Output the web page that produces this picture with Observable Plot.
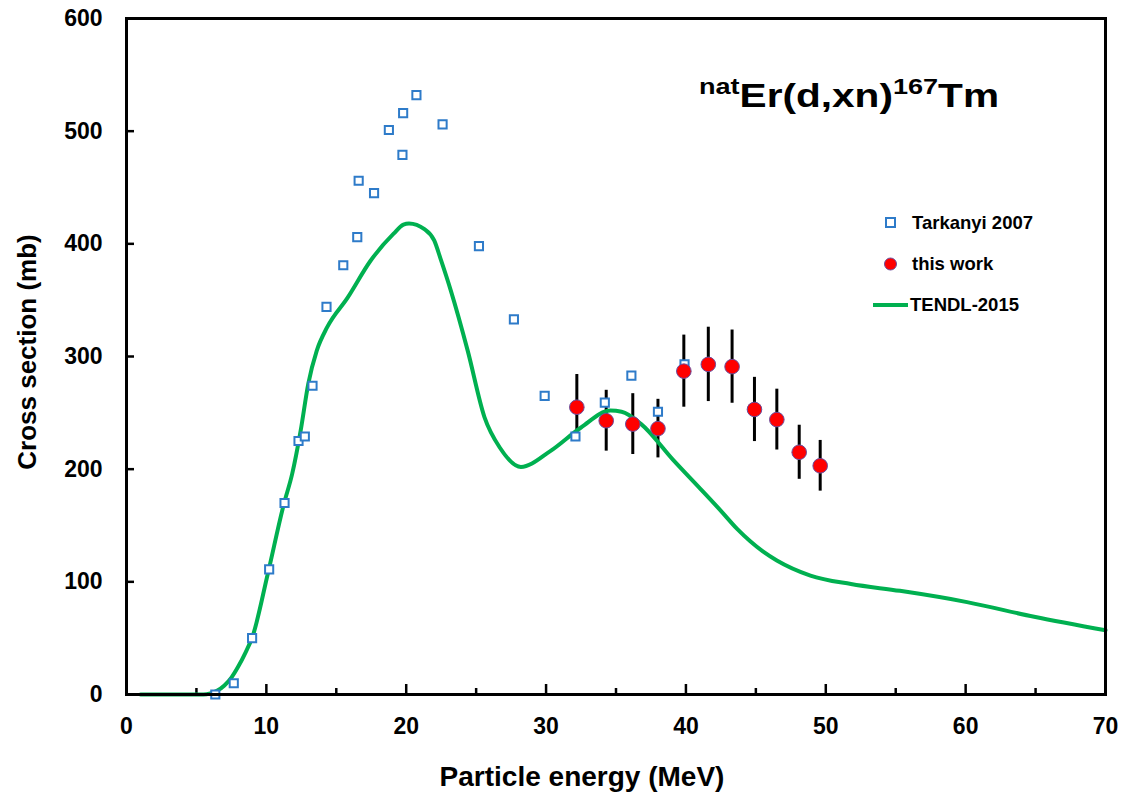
<!DOCTYPE html>
<html><head><meta charset="utf-8">
<script src="https://cdn.jsdelivr.net/npm/d3@7"></script>
<script src="https://cdn.jsdelivr.net/npm/@observablehq/plot@0.6"></script>
<style>
body{margin:0;background:#fff}
#chart{position:relative;width:1125px;height:796px}
</style>
</head><body><div id="chart"></div>
<script>
// Tarkanyi 2007 (open squares)
const tarkE  = [6.35, 7.67, 8.98, 10.2, 11.3, 12.3, 12.75, 13.3, 14.3, 15.5, 16.5, 16.6, 17.7, 18.76, 19.78, 19.73, 20.73, 22.6, 25.2, 27.7, 29.9, 32.1, 34.2, 36.1, 38.0, 39.9];
const tarkXS = [0, 10, 50, 111, 170, 225, 229, 274, 344, 381, 406, 456, 445, 501, 516, 479, 532, 506, 398, 333, 265, 229, 259, 283, 251, 293];
// this work (red circles with uncertainties)
const workE   = [32.2, 34.3, 36.2, 38.0, 39.85, 41.6, 43.3, 44.9, 46.5, 48.1, 49.6];
const workXS  = [255, 243, 240, 236, 287, 293, 291, 253, 244, 215, 203];
const workErr = [29, 27, 27, 26, 32, 33, 32.5, 28.5, 27, 24, 22.5];
// TENDL-2015 curve
const tendlE  = [1, 3, 5, 5.5, 6.0, 6.5, 7.0, 7.5, 8.0, 8.5, 9.0, 10.1, 11.25, 11.85, 12.45, 13.0, 13.6, 14.35, 15.8, 17.45, 19.1, 19.8, 20.2, 21.3, 22.0, 22.5, 23.2, 24.4, 25.6, 26.7, 28.2, 30.3, 32.5, 34.6, 35.4, 36.8, 39.1, 41.0, 42.5, 43.66, 44.6, 45.5, 46.5, 48.9, 51.8, 55.3, 60.1, 64.9, 70];
const tendlXS = [0, 0, 0, 0, 1, 3.5, 8, 15, 25, 37, 51, 107, 169, 196, 234, 276, 305, 326, 352, 385, 409, 417, 418, 413, 403, 385, 358, 305, 246, 219, 202, 216, 237, 252, 251, 240, 208, 183, 163, 147, 136, 127, 119, 105.6, 98, 92, 82, 69, 57];
// axis ticks
const xMajor = [0, 10, 20, 30, 40, 50, 60, 70];
const xMinor = [5, 15, 25, 35, 45, 55, 65];
const yMajor = [0, 100, 200, 300, 400, 500, 600];

const tark  = tarkE.map((e, i) => ({e, xs: tarkXS[i]}));
const work  = workE.map((e, i) => ({e, xs: workXS[i], err: workErr[i]}));
const tendl = tendlE.map((e, i) => ({e, xs: tendlXS[i]}));

const font = "'Liberation Sans', Arial, Helvetica, sans-serif";
const green = "#00B050", blue = "#2E7BC9", red = "#FF0000";

const W = 1125, H = 796, mL = 126, mR = 20, mT = 18, mB = 102;
const plotW = W - mL - mR, plotH = H - mT - mB;

const plot = Plot.plot({
  width: W, height: H,
  marginLeft: mL, marginRight: mR, marginTop: mT, marginBottom: mB,
  style: {fontFamily: font, fontWeight: "bold", background: "#fff", color: "#000"},
  x: {domain: [0, 70]},
  y: {domain: [0, 600]},
  marks: [
    // inward ticks (rules spanning only a few pixels from the frame edge)
    Plot.ruleX(xMinor, {x: d => d, insetTop: plotH - 6, stroke: "#000", strokeWidth: 2.5}),
    Plot.ruleX(xMajor, {x: d => d, insetTop: plotH - 10, stroke: "#000", strokeWidth: 2.5}),
    Plot.ruleY(yMajor, {y: d => d, insetRight: plotW - 8, stroke: "#000", strokeWidth: 2.5}),
    Plot.axisX(xMajor, {tickSize: 0, tickPadding: 23, fontSize: 23, label: null}),
    Plot.axisY(yMajor, {tickSize: 0, tickPadding: 24, fontSize: 23, label: null}),
    Plot.ruleX(work, {x: "e", y1: d => d.xs - d.err, y2: d => d.xs + d.err, stroke: "#000", strokeWidth: 3}),
    Plot.line(tendl, {x: "e", y: "xs", stroke: green, strokeWidth: 4, curve: "monotone-x"}),
    Plot.dot(tark, {x: "e", y: "xs", symbol: "square", r: 4.6, stroke: blue, strokeWidth: 2, fill: "#fff"}),
    Plot.dot(work, {x: "e", y: "xs", r: 7.3, fill: red, stroke: "#6a4c9c", strokeWidth: 1}),
    Plot.frame({stroke: "#000", strokeWidth: 3})
  ]
});
document.getElementById("chart").appendChild(plot);

const svg = d3.select(plot);
// axis titles
svg.append("text").attr("x", 582).attr("y", 786).attr("text-anchor", "middle")
  .attr("font-family", font).attr("font-weight", "bold").attr("font-size", 28).attr("fill", "#000")
  .text("Particle energy (MeV)");
svg.append("text").attr("transform", "translate(36,352) rotate(-90)").attr("text-anchor", "middle")
  .attr("font-family", font).attr("font-weight", "bold").attr("font-size", 26).attr("fill", "#000")
  .text("Cross section (mb)");

// reaction title
const t = svg.append("text").attr("x", 699).attr("y", 107).attr("text-anchor", "start")
  .attr("font-family", font).attr("font-weight", "bold").attr("font-size", 33).attr("fill", "#000")
  .attr("textLength", 300).attr("lengthAdjust", "spacingAndGlyphs");
t.append("tspan").attr("font-size", 22).attr("dy", -13).text("nat");
t.append("tspan").attr("dy", 13).text("Er(d,xn)");
t.append("tspan").attr("font-size", 22).attr("dy", -13).text("167");
t.append("tspan").attr("dy", 13).text("Tm");

// legend
const lg = svg.append("g").attr("font-family", font).attr("font-weight", "bold").attr("font-size", 18.5)
  .attr("fill", "#000").attr("text-anchor", "start");
lg.append("rect").attr("x", 886).attr("y", 218).attr("width", 9).attr("height", 9)
  .attr("fill", "#fff").attr("stroke", blue).attr("stroke-width", 2);
lg.append("text").attr("x", 912).attr("y", 229).text("Tarkanyi 2007");
lg.append("circle").attr("cx", 890.5).attr("cy", 264).attr("r", 6).attr("fill", red).attr("stroke", "#6a4c9c").attr("stroke-width", 1);
lg.append("text").attr("x", 912).attr("y", 270).text("this work");
lg.append("line").attr("x1", 873).attr("x2", 908).attr("y1", 305).attr("y2", 305).attr("stroke", green).attr("stroke-width", 4);
lg.append("text").attr("x", 910).attr("y", 311).text("TENDL-2015");
</script>
</body></html>
